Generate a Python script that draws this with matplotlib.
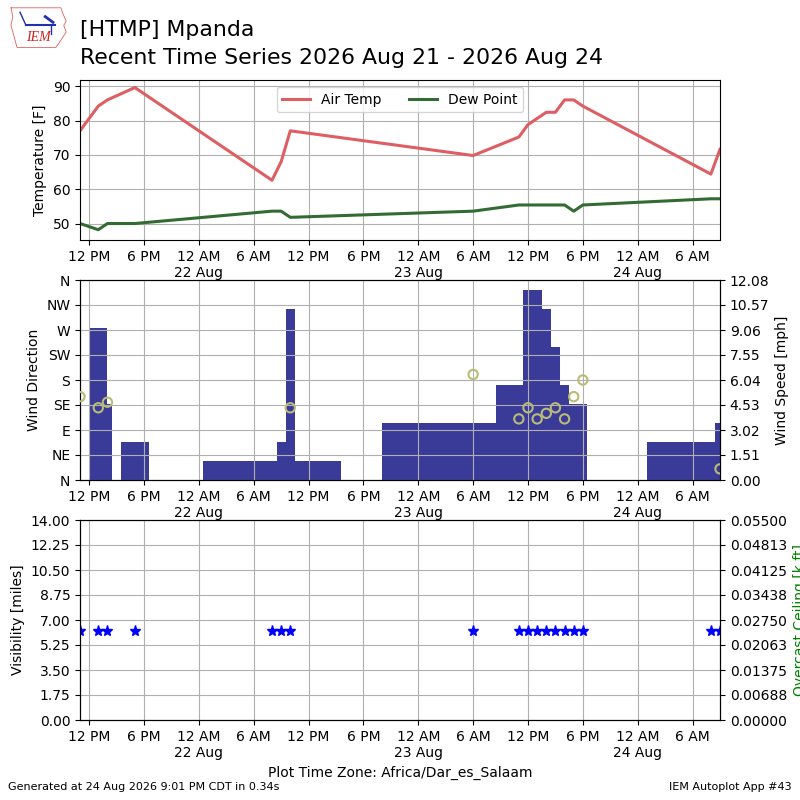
import matplotlib
matplotlib.use("Agg")
import matplotlib.pyplot as plt
import matplotlib.dates as mdates
from matplotlib.ticker import FuncFormatter, FixedLocator
import numpy as np
import pandas as pd

# ---------------- data ----------------
times = ["2026-08-21 11:00", "2026-08-21 13:00", "2026-08-21 14:00", "2026-08-21 17:00",
         "2026-08-22 08:00", "2026-08-22 09:00", "2026-08-22 10:00",
         "2026-08-23 06:00", "2026-08-23 11:00", "2026-08-23 12:00", "2026-08-23 13:00",
         "2026-08-23 14:00", "2026-08-23 15:00", "2026-08-23 16:00", "2026-08-23 17:00",
         "2026-08-23 18:00", "2026-08-24 08:00", "2026-08-24 09:00"]
air_temp = [77.0, 84.2, 86.0, 89.6, 62.6, 68.0, 77.0, 69.8, 75.2, 78.8, 80.6,
            82.4, 82.4, 86.0, 86.0, 84.2, 64.4, 71.6]
dew_point = [50.0, 48.2, 50.0, 50.0, 53.6, 53.6, 51.8, 53.6, 55.4, 55.4, 55.4,
             55.4, 55.4, 55.4, 53.6, 55.4, 57.2, 57.2]
wind_dir = [150, 130, 140, np.nan, np.nan, np.nan, 130, 190, 110, 130, 110,
            120, 130, 110, 150, 180, np.nan, 20]
wind_mph = [4.603, 9.206, 4.603, 2.302, 1.151, 2.302, 10.357, 3.452, 5.754, 11.508, 11.508,
            10.357, 8.055, 5.754, 4.603, 4.603, 2.302, 3.452]
visibility = [6.21, 6.21, 6.21, 6.21, 6.21, 6.21, 6.21, 6.21, 6.21, 6.21, 6.21,
              6.21, 6.21, 6.21, 6.21, 6.21, 6.21, 6.21]
dir_labels = ["N", "NE", "E", "SE", "S", "SW", "W", "NW", "N"]

station = "[HTMP] Mpanda"
subtitle = "Recent Time Series 2026 Aug 21 - 2026 Aug 24"
xstart = "2026-08-21 11:00"
xend = "2026-08-24 09:00"

# ---------------- figure ----------------
plt.rcParams["font.family"] = ["DejaVu Sans"]
fig = plt.figure(figsize=(8, 8), dpi=100)

t = pd.to_datetime(times)
tn = mdates.date2num(t.to_pydatetime())
x0 = mdates.date2num(pd.Timestamp(xstart).to_pydatetime())
x1 = mdates.date2num(pd.Timestamp(xend).to_pydatetime())


def fmt_time(x, pos=None):
    d = mdates.num2date(x)
    h = d.hour
    if h == 0:
        return "12 AM\n%d %s" % (d.day, d.strftime("%b"))
    if h == 12:
        return "12 PM"
    if h < 12:
        return "%d AM" % h
    return "%d PM" % (h - 12)


def setup_x(ax):
    ax.set_xlim(x0, x1)
    ax.xaxis.set_major_locator(mdates.HourLocator(byhour=[0, 6, 12, 18]))
    ax.xaxis.set_major_formatter(FuncFormatter(fmt_time))
    ax.grid(True)


# ---- top panel: temperature ----
ax1 = fig.add_axes([0.1, 0.7, 0.8, 0.2])
ax1.plot(tn, air_temp, color="#dd5e63", lw=2.2, label="Air Temp")
ax1.plot(tn, dew_point, color="#346b34", lw=2.2, label="Dew Point")
ax1.set_ylim(45.2, 91.8)
ax1.set_ylabel("Temperature [F]")
setup_x(ax1)
ax1.legend(loc="upper center", ncol=2)

# ---- middle panel: wind ----
ax2 = fig.add_axes([0.1, 0.4, 0.8, 0.25])
ax2b = ax2.twinx()
widths = np.diff(tn)
for i in range(1, len(tn)):
    ax2b.bar(tn[i], wind_mph[i], width=widths[i - 1], align="center",
             color="#3a3a98", linewidth=0)
smax = np.nanmax(wind_mph) * 1.05
ax2b.set_ylim(0, smax)
sticks = np.linspace(0, smax, 9)
ax2b.yaxis.set_major_locator(FixedLocator(sticks))
ax2b.set_yticklabels(["%.2f" % v for v in sticks])
ax2b.set_ylabel("Wind Speed [mph]")

ax2.scatter(tn, wind_dir, s=45, facecolor="none", edgecolor="#b9bb78",
            linewidths=1.5, zorder=4)
ax2.set_ylim(0, 360)
ax2.set_yticks(np.arange(0, 361, 45))
ax2.set_yticklabels(dir_labels)
ax2.set_ylabel("Wind Direction")
setup_x(ax2)
ax2.set_zorder(ax2b.get_zorder() + 1)
ax2.patch.set_visible(False)

# ---- bottom panel: visibility ----
ax3 = fig.add_axes([0.1, 0.1, 0.8, 0.25])
ax3.plot(tn, visibility, linestyle="none", marker="*", color="blue", ms=8)
ax3.set_ylim(0, 14)
vticks = np.linspace(0, 14, 9)
ax3.set_yticks(vticks)
ax3.set_yticklabels(["%.2f" % v for v in vticks])
ax3.set_ylabel("Visibility [miles]")
ax3.set_xlabel("Plot Time Zone: Africa/Dar_es_Salaam")
setup_x(ax3)
ax3b = ax3.twinx()
ax3b.set_ylim(0, 0.055)
cticks = np.linspace(0, 0.055, 9)
ax3b.yaxis.set_major_locator(FixedLocator(cticks))
ax3b.set_yticklabels(["%.5f" % v for v in cticks])
ax3b.set_ylabel("Overcast Ceiling [k ft]", color="green")

# ---- titles / footer ----
fig.text(0.1, 1 - 36.5 / 800, station, fontsize=15.8, va="baseline")
fig.text(0.1, 1 - 64 / 800, subtitle, fontsize=15.8, va="baseline")
fig.text(0.01, 0.01, "Generated at 24 Aug 2026 9:01 PM CDT in 0.34s",
         fontsize=8, va="bottom")
fig.text(0.99, 0.01, "IEM Autoplot App #43", fontsize=8, va="bottom", ha="right")

# ---- logo ----
axl = fig.add_axes([0.01, 0.938, 0.075, 0.055])
axl.set_xlim(0, 1)
axl.set_ylim(0, 1)
axl.axis("off")
ox = [0.05, 0.88, 0.92, 0.97, 0.93, 0.97, 0.90, 0.80, 0.15, 0.10, 0.05, 0.08, 0.05]
oy = [0.95, 0.95, 0.80, 0.65, 0.55, 0.40, 0.25, 0.05, 0.05, 0.30, 0.55, 0.75, 0.95]
axl.plot(ox, oy, color="#e06060", lw=0.6)
axl.plot([0.30, 0.78], [0.55, 0.55], color="#2030b0", lw=1.5)
axl.plot([0.20, 0.30], [0.85, 0.55], color="#2030b0", lw=1.0)
axl.plot([0.62, 0.75], [0.75, 0.62], color="#2030b0", lw=2.0)
axl.plot([0.72, 0.72], [0.55, 0.35], color="#2030b0", lw=1.0)
axl.text(0.50, 0.12, "IEM", color="#d02020", fontsize=10, style="italic",
         family="Liberation Serif", ha="center", va="bottom")

fig.savefig("out.png", dpi=100)
